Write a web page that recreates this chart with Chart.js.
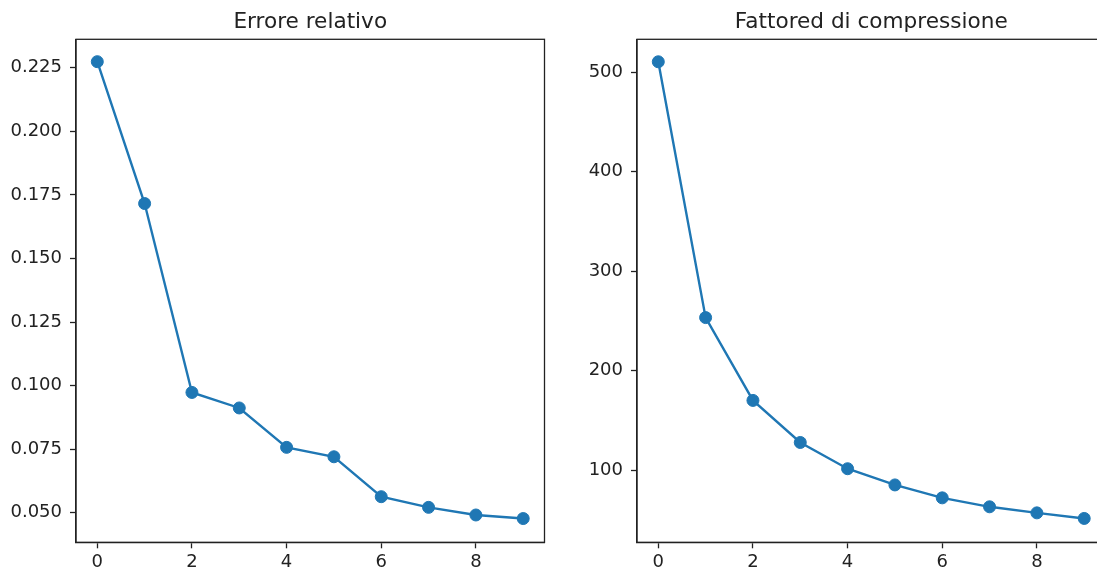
<!DOCTYPE html>
<html>
<head>
<meta charset="utf-8">
<script src="https://cdn.jsdelivr.net/npm/chart.js@4.4.1/dist/chart.umd.min.js"></script>
<style>
  html, body { margin: 0; padding: 0; background: #fff; overflow: hidden; }
  #wrap { position: relative; width: 1097px; height: 575px; overflow: hidden; }
  #wrap canvas { position: absolute; top: 0; }
</style>
</head>
<body>
<div id="wrap">
  <canvas id="errChart" width="560" height="575" style="left:0"></canvas>
  <canvas id="compChart" width="560" height="575" style="left:561px"></canvas>
</div>
<script>
const iterations = [0, 1, 2, 3, 4, 5, 6, 7, 8, 9];
const relError = [0.2274, 0.1716, 0.0973, 0.0912, 0.0757, 0.0720, 0.0563, 0.0521, 0.0491, 0.0477];
const compFactor = [510.6, 253.3, 170.0, 127.7, 101.3, 85.0, 72.0, 63.0, 56.9, 51.3];
const xTicks = [0, 2, 4, 6, 8];
const errTicks = [0.050, 0.075, 0.100, 0.125, 0.150, 0.175, 0.200, 0.225];
const compTicks = [100, 200, 300, 400, 500];
const titles = ['Errore relativo', 'Fattored di compressione'];

const lineColor = '#1f77b4';
const axisColor = '#222';
const fontFamily = '"DejaVu Sans", sans-serif';

// matplotlib-style box around the axes plus the title centred over it
const axesFrame = {
  id: 'axesFrame',
  afterDraw(chart, args, opts) {
    const { ctx, chartArea: a } = chart;
    ctx.save();
    ctx.strokeStyle = axisColor;
    ctx.lineWidth = 1.3;
    ctx.strokeRect(a.left, a.top, a.right - a.left, a.bottom - a.top);
    ctx.fillStyle = '#222';
    ctx.font = '21.6px ' + fontFamily;
    ctx.textAlign = 'center';
    ctx.textBaseline = 'alphabetic';
    ctx.fillText(opts.text, (a.left + a.right) / 2, 27.7);
    ctx.restore();
  }
};

function makeChart(id, title, values, yTicks, yMin, yMax, fmt) {
  const tickFont = { family: fontFamily, size: 18 };
  new Chart(document.getElementById(id), {
    type: 'line',
    data: {
      datasets: [{
        data: iterations.map((x, i) => ({ x, y: values[i] })),
        borderColor: lineColor,
        backgroundColor: lineColor,
        borderWidth: 2.4,
        pointRadius: 6,
        pointBorderWidth: 1,
        pointBackgroundColor: lineColor,
        pointBorderColor: lineColor,
        tension: 0,
        fill: false
      }]
    },
    options: {
      responsive: false,
      animation: false,
      devicePixelRatio: 1,
      layout: { padding: { left: 0, right: 15.5, top: 39.3, bottom: 0 } },
      scales: {
        x: {
          type: 'linear',
          min: -0.45,
          max: 9.45,
          afterBuildTicks: s => { s.ticks = xTicks.map(v => ({ value: v })); },
          afterFit: s => { s.height = 32.7; },
          ticks: { color: '#222', font: tickFont, padding: 3, maxRotation: 0, callback: v => String(v) },
          grid: { drawOnChartArea: false, drawTicks: true, tickLength: 6, tickWidth: 1.3, tickColor: axisColor },
          border: { display: true, color: axisColor, width: 1.3 }
        },
        y: {
          type: 'linear',
          min: yMin,
          max: yMax,
          afterBuildTicks: s => { s.ticks = yTicks.map(v => ({ value: v })); },
          afterFit: s => { s.width = 76; },
          ticks: { color: '#222', font: tickFont, padding: 8, callback: fmt },
          grid: { drawOnChartArea: false, drawTicks: true, tickLength: 6, tickWidth: 1.3, tickColor: axisColor },
          border: { display: true, color: axisColor, width: 1.3 }
        }
      },
      plugins: {
        legend: { display: false },
        tooltip: { enabled: false },
        axesFrame: { text: title }
      }
    },
    plugins: [axesFrame]
  });
}

makeChart('errChart', titles[0], relError, errTicks, 0.03836, 0.2362, v => v.toFixed(3));
makeChart('compChart', titles[1], compFactor, compTicks, 27.3, 533.2, v => String(v));
</script>
</body>
</html>
